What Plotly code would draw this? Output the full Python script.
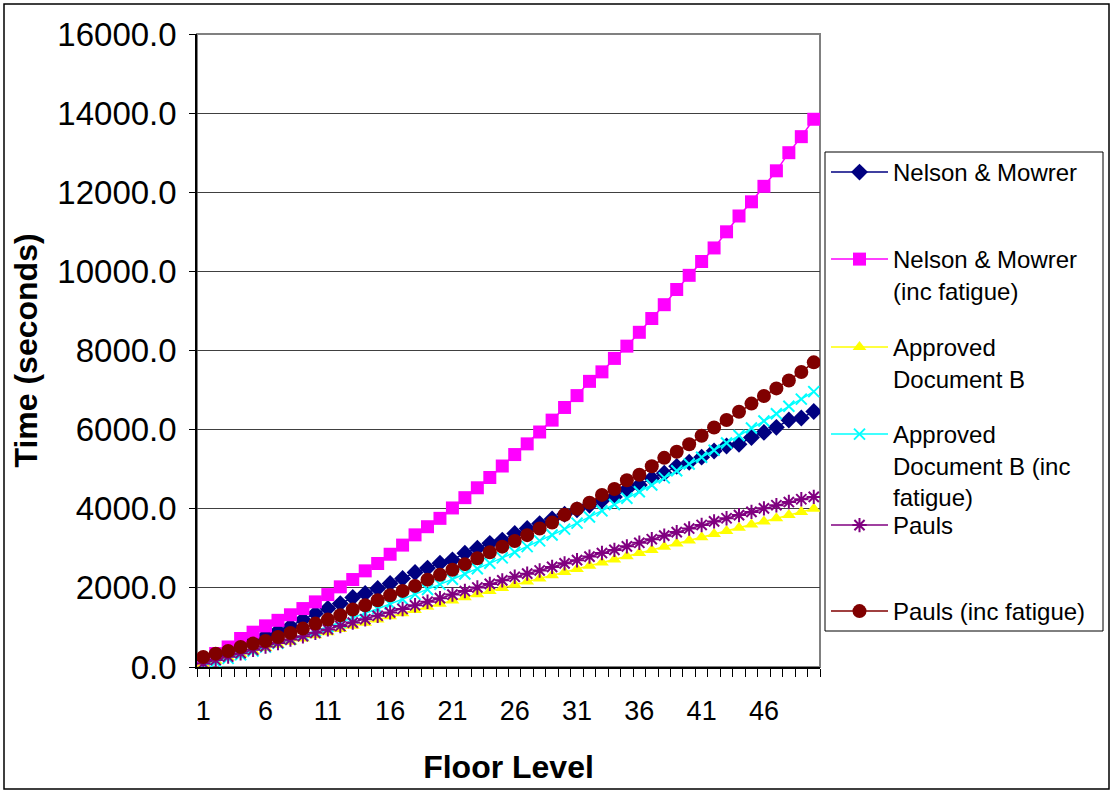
import plotly.graph_objects as go

floors = list(range(1, 51))

nelson_mowrer = [150, 280, 410, 540, 660, 790, 910, 1030, 1198, 1350,
                 1477, 1603, 1755, 1857, 1983, 2110, 2237, 2390, 2500, 2625,
                 2708, 2875, 3000, 3125, 3208, 3375, 3500, 3625, 3740, 3860,
                 3975, 4090, 4208, 4300, 4490, 4600, 4772, 4900, 5072, 5175,
                 5304, 5459, 5587, 5630, 5802, 5930, 6058, 6242, 6292, 6458]

nelson_mowrer_fatigue = [180, 340, 506, 720, 880, 1040, 1180, 1320, 1477, 1646,
                         1830, 2026, 2211, 2430, 2616, 2850, 3081, 3340, 3546, 3757,
                         4020, 4280, 4530, 4790, 5080, 5370, 5640, 5940, 6240, 6560,
                         6860, 7220, 7460, 7800, 8110, 8460, 8808, 9158, 9542, 9900,
                         10250, 10592, 11000, 11400, 11758, 12150, 12542, 13000, 13405, 13845]

approved_doc_b = [80, 160, 240, 320, 400, 480, 560, 640, 720, 800,
                  880, 960, 1040, 1120, 1200, 1280, 1360, 1440, 1520, 1600,
                  1680, 1760, 1840, 1920, 2000, 2080, 2160, 2240, 2320, 2400,
                  2480, 2560, 2640, 2720, 2800, 2880, 2960, 3040, 3120, 3200,
                  3280, 3360, 3440, 3520, 3600, 3680, 3760, 3840, 3920, 4000]

approved_doc_b_fatigue = [40, 128, 218, 311, 405, 502, 601, 702, 806, 911,
                          1019, 1129, 1241, 1356, 1472, 1591, 1712, 1835, 1961, 2088,
                          2218, 2350, 2484, 2621, 2759, 2900, 3043, 3188, 3336, 3485,
                          3637, 3791, 3947, 4106, 4266, 4429, 4600, 4780, 4960, 5130,
                          5300, 5480, 5660, 5850, 6040, 6220, 6400, 6590, 6770, 6960]

pauls = [90, 176, 262, 348, 434, 520, 606, 692, 778, 864,
         950, 1036, 1122, 1208, 1294, 1380, 1466, 1560, 1650, 1740,
         1830, 1920, 2010, 2100, 2190, 2280, 2360, 2440, 2530, 2620,
         2700, 2790, 2880, 2960, 3050, 3140, 3230, 3320, 3410, 3500,
         3590, 3680, 3760, 3840, 3920, 4010, 4090, 4170, 4240, 4300]

pauls_fatigue = [253, 338, 405, 506, 591, 658, 760, 861, 970, 1097,
                 1198, 1308, 1452, 1561, 1688, 1815, 1924, 2050, 2208, 2333,
                 2458, 2600, 2750, 2900, 3042, 3183, 3333, 3500, 3650, 3850,
                 4000, 4150, 4350, 4500, 4720, 4858, 5073, 5287, 5441, 5630,
                 5845, 6055, 6242, 6450, 6658, 6850, 7042, 7242, 7458, 7700]

series_names = ["Nelson & Mowrer", "Nelson & Mowrer<br>(inc fatigue)",
                "Approved<br>Document B", "Approved<br>Document B (inc<br>fatigue)",
                "Pauls", "Pauls (inc fatigue)"]

x_tick_labels = ["1", "6", "11", "16", "21", "26", "31", "36", "41", "46"]
x_tick_vals = [int(t) for t in x_tick_labels]
y_tick_vals = [0, 2000, 4000, 6000, 8000, 10000, 12000, 14000, 16000]

series_values = [nelson_mowrer, nelson_mowrer_fatigue, approved_doc_b,
                 approved_doc_b_fatigue, pauls, pauls_fatigue]
styles = [
    ("#000080", "diamond", 13, None),
    ("#FF00FF", "square", 13, None),
    ("#FFFF00", "triangle-up", 12, None),
    ("#00FFFF", "x-thin-open", 11, 2),
    ("#800080", "asterisk-open", 12, 2),
    ("#800000", "circle", 14, None),
]

L, R, T, B = 197, 292, 34, 125
W, H = 1112, 792
pw, ph = W - L - R, H - T - B

def px_x(x):
    return (x - L) / pw

def px_y(y):
    return (H - B - y) / ph

# legend entry centres (pixels) as laid out in the original
legend_centres = [171, 258, 346, 433, 524, 610]
LEG_FONT = 24

fig = go.Figure()
layout_legends = {}
for i, (name, vals, (color, symbol, size, lw)) in enumerate(zip(series_names, series_values, styles)):
    marker = dict(symbol=symbol, size=size, color=color)
    if lw:
        marker["line"] = dict(color=color, width=lw)
    leg_id = "legend" if i == 0 else f"legend{i + 1}"
    fig.add_trace(go.Scatter(
        x=floors, y=vals, name=name, mode="lines+markers",
        line=dict(color=color, width=1.5), marker=marker, legend=leg_id,
    ))
    layout_legends[leg_id] = dict(
        x=px_x(826), y=px_y(legend_centres[i] - 21), xanchor="left", yanchor="top",
        bgcolor="rgba(0,0,0,0)", borderwidth=0, itemwidth=57, valign="top",
        font=dict(size=LEG_FONT, family="Liberation Sans, Arial, sans-serif", color="black"),
    )

fig.update_layout(
    width=W, height=H,
    margin=dict(l=L, r=R, t=T, b=B),
    paper_bgcolor="white", plot_bgcolor="white",
    font=dict(family="Liberation Sans, Arial, sans-serif", color="black"),
    showlegend=True,
    xaxis=dict(
        range=[0.5, 50.5], tickmode="array", tickvals=x_tick_vals, ticktext=x_tick_labels,
        ticks="", showgrid=False, zeroline=False,
        showline=True, linecolor="black", linewidth=1.5,
        tickfont=dict(size=27), ticklabelstandoff=19,
        minor=dict(tick0=0.5, dtick=1, ticks="outside", ticklen=8, tickcolor="black", tickwidth=1, showgrid=False),
        title=dict(text="<b>Floor Level</b>", font=dict(size=32), standoff=30),
    ),
    yaxis=dict(
        range=[0, 16000], tickmode="array", tickvals=y_tick_vals, tickformat=".1f",
        ticks="outside", ticklen=6, tickcolor="black",
        showgrid=True, gridcolor="#404040", gridwidth=1, zeroline=False,
        showline=True, linecolor="black", linewidth=1.5,
        tickfont=dict(size=33), ticklabelstandoff=6,
        title=dict(text="<b>Time (seconds)</b>", font=dict(size=32), standoff=10),
    ),
    shapes=[
        dict(type="rect", xref="paper", yref="paper", x0=0, x1=1, y0=0, y1=1,
             line=dict(color="#808080", width=2), layer="below"),
        dict(type="rect", xref="paper", yref="paper",
             x0=px_x(4), x1=px_x(1109), y0=px_y(789), y1=px_y(4),
             line=dict(color="black", width=1.5), layer="below"),
        dict(type="rect", xref="paper", yref="paper",
             x0=px_x(825), x1=px_x(1103), y0=px_y(631), y1=px_y(152),
             line=dict(color="black", width=1), fillcolor="white", layer="below"),
    ],
    **layout_legends,
)

fig.write_html("out.html")
